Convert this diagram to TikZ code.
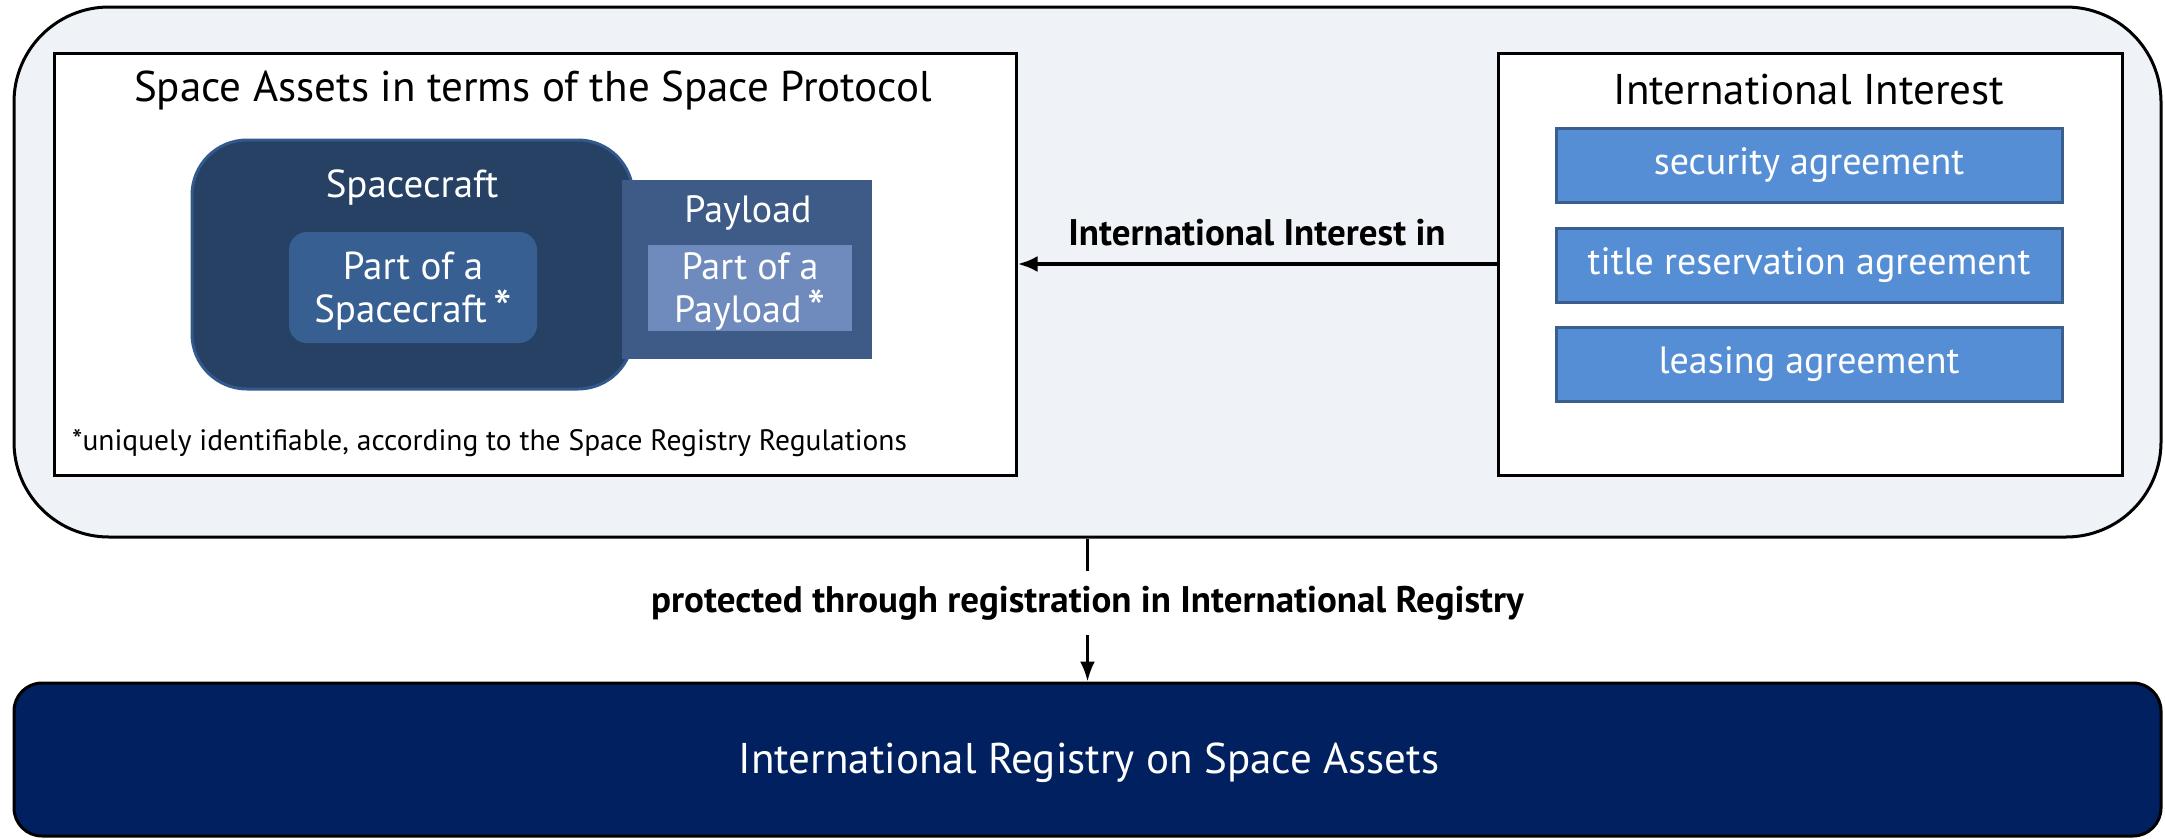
\documentclass[tikz,border=0pt]{standalone}
\usepackage{fontspec}
\setmainfont{PT Sans}
\usetikzlibrary{arrows.meta}
\definecolor{outerfill}{RGB}{239,242,247}
\definecolor{scfill}{RGB}{38,65,100}
\definecolor{scborder}{RGB}{50,88,140}
\definecolor{pscfill}{RGB}{55,95,146}
\definecolor{plfill}{RGB}{62,91,135}
\definecolor{pplfill}{RGB}{111,139,189}
\definecolor{agfill}{RGB}{85,142,213}
\definecolor{agborder}{RGB}{58,95,142}
\definecolor{regfill}{RGB}{0,32,96}
\newcommand{\midast}{\,\raisebox{-0.12em}{\scalebox{1.35}{*}}}
\tikzset{
  frame/.style={draw=black, line width=3pt, fill=white, inner sep=0pt},
  agbox/.style={draw=agborder, line width=3pt, fill=agfill, inner sep=0pt,
    minimum width=506pt, minimum height=74pt, text=white, font=\fontsize{38}{44}\selectfont},
  wlbl/.style={text=white, inner sep=0pt, align=center},
  conn/.style={line width=4pt, -{Latex[length=20pt,width=16pt]}},
}
\begin{document}
\begin{tikzpicture}[x=1pt,y=-1pt]
\useasboundingbox (0,0) rectangle (2165,839);
% outer container
\node[draw=black, line width=3pt, fill=outerfill, rounded corners=95pt,
  minimum width=2147pt, minimum height=530pt, inner sep=0pt] (outer) at (1087.5,272) {};
% left box
\node[frame, minimum width=962pt, minimum height=422pt] (left) at (535,264) {};
\node[inner sep=0pt, font=\fontsize{43}{48}\selectfont] (lefttitle) at (533,90) {Space Assets in terms of the Space Protocol};
% spacecraft
\node[draw=scborder, line width=3pt, fill=scfill, rounded corners=55pt,
  minimum width=441pt, minimum height=249pt, inner sep=0pt] (sc) at (412.5,264.5) {};
\node[draw=plfill, line width=1pt, fill=plfill, minimum width=249pt, minimum height=178pt, inner sep=0pt] (pl) at (746.5,269) {};
\node[wlbl, font=\fontsize{39}{44}\selectfont] (sctext) at (412,188) {Spacecraft};
\node[fill=pscfill, rounded corners=18pt, minimum width=248pt, minimum height=111pt, inner sep=0pt] (psc) at (413,287.5) {};
\node[wlbl, font=\fontsize{39}{43}\selectfont] (psctext) at (413,291) {Part of a\\Spacecraft\midast};
\node[wlbl, font=\fontsize{38}{44}\selectfont] (pltext) at (748,213) {Payload};
\node[fill=pplfill, minimum width=204pt, minimum height=86pt, inner sep=0pt] (ppl) at (750,288) {};
\node[wlbl, font=\fontsize{38}{43}\selectfont] (ppltext) at (750,291) {Part of a\\Payload\midast};
\node[inner sep=0pt, anchor=west, font=\fontsize{29.5}{34}\selectfont] (foot) at (72,443) {*uniquely identifiable, according to the Space Registry Regulations};
% right box
\node[frame, minimum width=624pt, minimum height=422pt] (right) at (1810,264) {};
\node[inner sep=0pt, font=\fontsize{43}{48}\selectfont] (righttitle) at (1809,90) {International Interest};
\node[agbox] (ag1) at (1809,165) {security agreement};
\node[agbox] (ag2) at (1809,265.5) {title reservation agreement};
\node[agbox] (ag3) at (1809,364.5) {leasing agreement};
% horizontal arrow
\draw[conn] (right.west) -- (left.east)
  node[midway, above=16pt, inner sep=0pt, font=\bfseries\fontsize{37}{42}\selectfont] (iilbl) {International Interest in};
% registry
\node[draw=black, line width=3pt, fill=regfill, rounded corners=28pt,
  minimum width=2147pt, minimum height=153pt, inner sep=0pt] (reg) at (1087.5,759.5) {};
\node[wlbl, font=\fontsize{43}{48}\selectfont] (regtext) at (1089,763) {International Registry on Space Assets};
% vertical arrow
\node[inner xsep=0pt, inner ysep=15pt, font=\bfseries\fontsize{37}{42}\selectfont] (prot) at (1087.5,603) {protected through registration in International Registry};
\draw[line width=3pt] (outer.south) -- (prot.north);
\draw[line width=3pt, -{Latex[length=20pt,width=15pt]}] (prot.south) -- (reg.north);
\end{tikzpicture}
\end{document}
